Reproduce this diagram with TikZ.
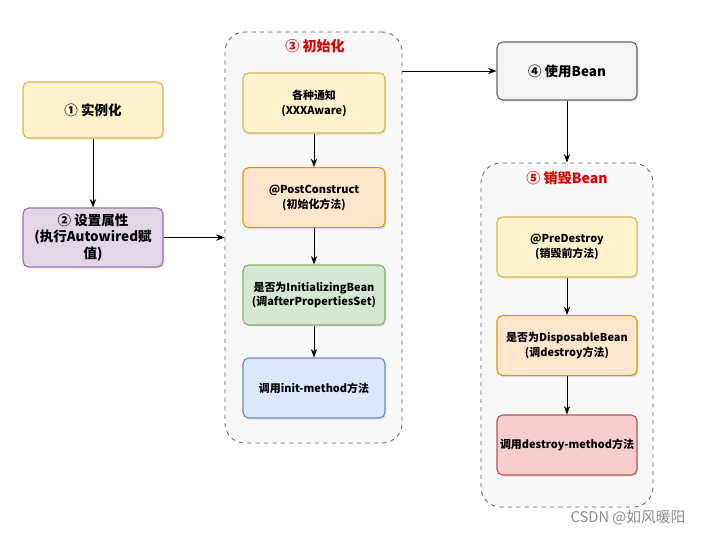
\documentclass[tikz,border=0pt]{standalone}
\usepackage{fontspec}
\setmainfont{Noto Sans CJK SC}
\usetikzlibrary{arrows.meta,shadows}
\definecolor{ylwfill}{HTML}{FFF2CC}\definecolor{ylwline}{HTML}{D6B656}
\definecolor{prpfill}{HTML}{E1D5E7}\definecolor{prpline}{HTML}{9673A6}
\definecolor{orgfill}{HTML}{FFE6CC}\definecolor{orgline}{HTML}{D79B00}
\definecolor{grnfill}{HTML}{D5E8D4}\definecolor{grnline}{HTML}{82B366}
\definecolor{blufill}{HTML}{DAE8FC}\definecolor{bluline}{HTML}{6C8EBF}
\definecolor{redfill}{HTML}{F8CECC}\definecolor{redline}{HTML}{B85450}
\definecolor{gryfill}{HTML}{F5F5F5}\definecolor{gryline}{HTML}{666666}
\definecolor{titlered}{HTML}{E00000}
\begin{document}
\begin{tikzpicture}[
    stagebox/.style={draw=#1line, fill=#1fill, rounded corners=4pt, line width=0.8pt,
      minimum width=3.5cm, minimum height=1.5cm, align=center, inner sep=2pt,
      font=\fontsize{7.8}{10.5}\selectfont\bfseries,
      drop shadow={opacity=0.18, shadow xshift=1pt, shadow yshift=-1.2pt}},
    bigtext/.style={font=\fontsize{9.6}{11.5}\selectfont\bfseries},
    groupbox/.style={draw=gryline, fill=gryfill!70!white, dashed, rounded corners=14pt, line width=0.6pt},
    grouptitle/.style={text=titlered, font=\fontsize{10}{12}\selectfont\bfseries},
    flow/.style={-{Stealth[length=6pt,width=4.5pt]}, line width=0.6pt, black}
  ]
  \useasboundingbox (0,0) rectangle (17.75,-13.4);
  % groups first, so the boxes sit on top
  \node[groupbox, minimum width=4.425cm, minimum height=10.275cm] (grpinit) at (7.8375,-5.9375) {};
  \node[groupbox, minimum width=4.3cm, minimum height=8.6cm] (grpdestroy) at (14.175,-8.375) {};
  \node[grouptitle] (titleinit) at (7.875,-1.15) {③ 初始化};
  \node[grouptitle] (titledestroy) at (14.175,-4.45) {⑤ 销毁Bean};

  % left column
  \node[stagebox=ylw, bigtext, minimum height=1.4cm] (create) at (2.325,-2.75) {① 实例化};
  \node[stagebox=prp, bigtext, minimum height=1.475cm] (props) at (2.325,-5.9375) {② 设置属性\\(执行Autowired赋\\值)};

  % initialisation
  \node[stagebox=ylw, minimum width=3.55cm] (aware) at (7.85,-2.575) {各种通知\\(XXXAware)};
  \node[stagebox=org, minimum width=3.55cm] (postc) at (7.85,-4.94) {@PostConstruct\\(初始化方法)};
  \node[stagebox=grn, minimum width=3.55cm] (initbean) at (7.85,-7.375) {是否为InitializingBean\\(调afterPropertiesSet)};
  \node[stagebox=blu, minimum width=3.55cm] (initm) at (7.85,-9.7) {调用init-method方法};

  % use
  \node[stagebox=gry, bigtext, minimum height=1.45cm] (use) at (14.175,-1.775) {④ 使用Bean};

  % destruction
  \node[stagebox=ylw] (pred) at (14.175,-6.175) {@PreDestroy\\(销毁前方法)};
  \node[stagebox=org] (dispbean) at (14.175,-8.64) {是否为DisposableBean\\(调destroy方法)};
  \node[stagebox=red] (destm) at (14.175,-11.125) {调用destroy-method方法};

  \node[text=black!45, font=\fontsize{10.5}{12}\selectfont] (mark) at (15.7,-12.95) {CSDN @如风暖阳};

  \begin{scope}[flow]
    \draw (create) to (props);
    \draw (props) to (grpinit.west);
    \draw (aware) to (postc);
    \draw (postc) to (initbean);
    \draw (initbean) to (initm);
    \draw (grpinit.east |- use.west) to (use.west);
    \draw (use) to (grpdestroy.north);
    \draw (pred) to (dispbean);
    \draw (dispbean) to (destm);
  \end{scope}
\end{tikzpicture}
\end{document}
